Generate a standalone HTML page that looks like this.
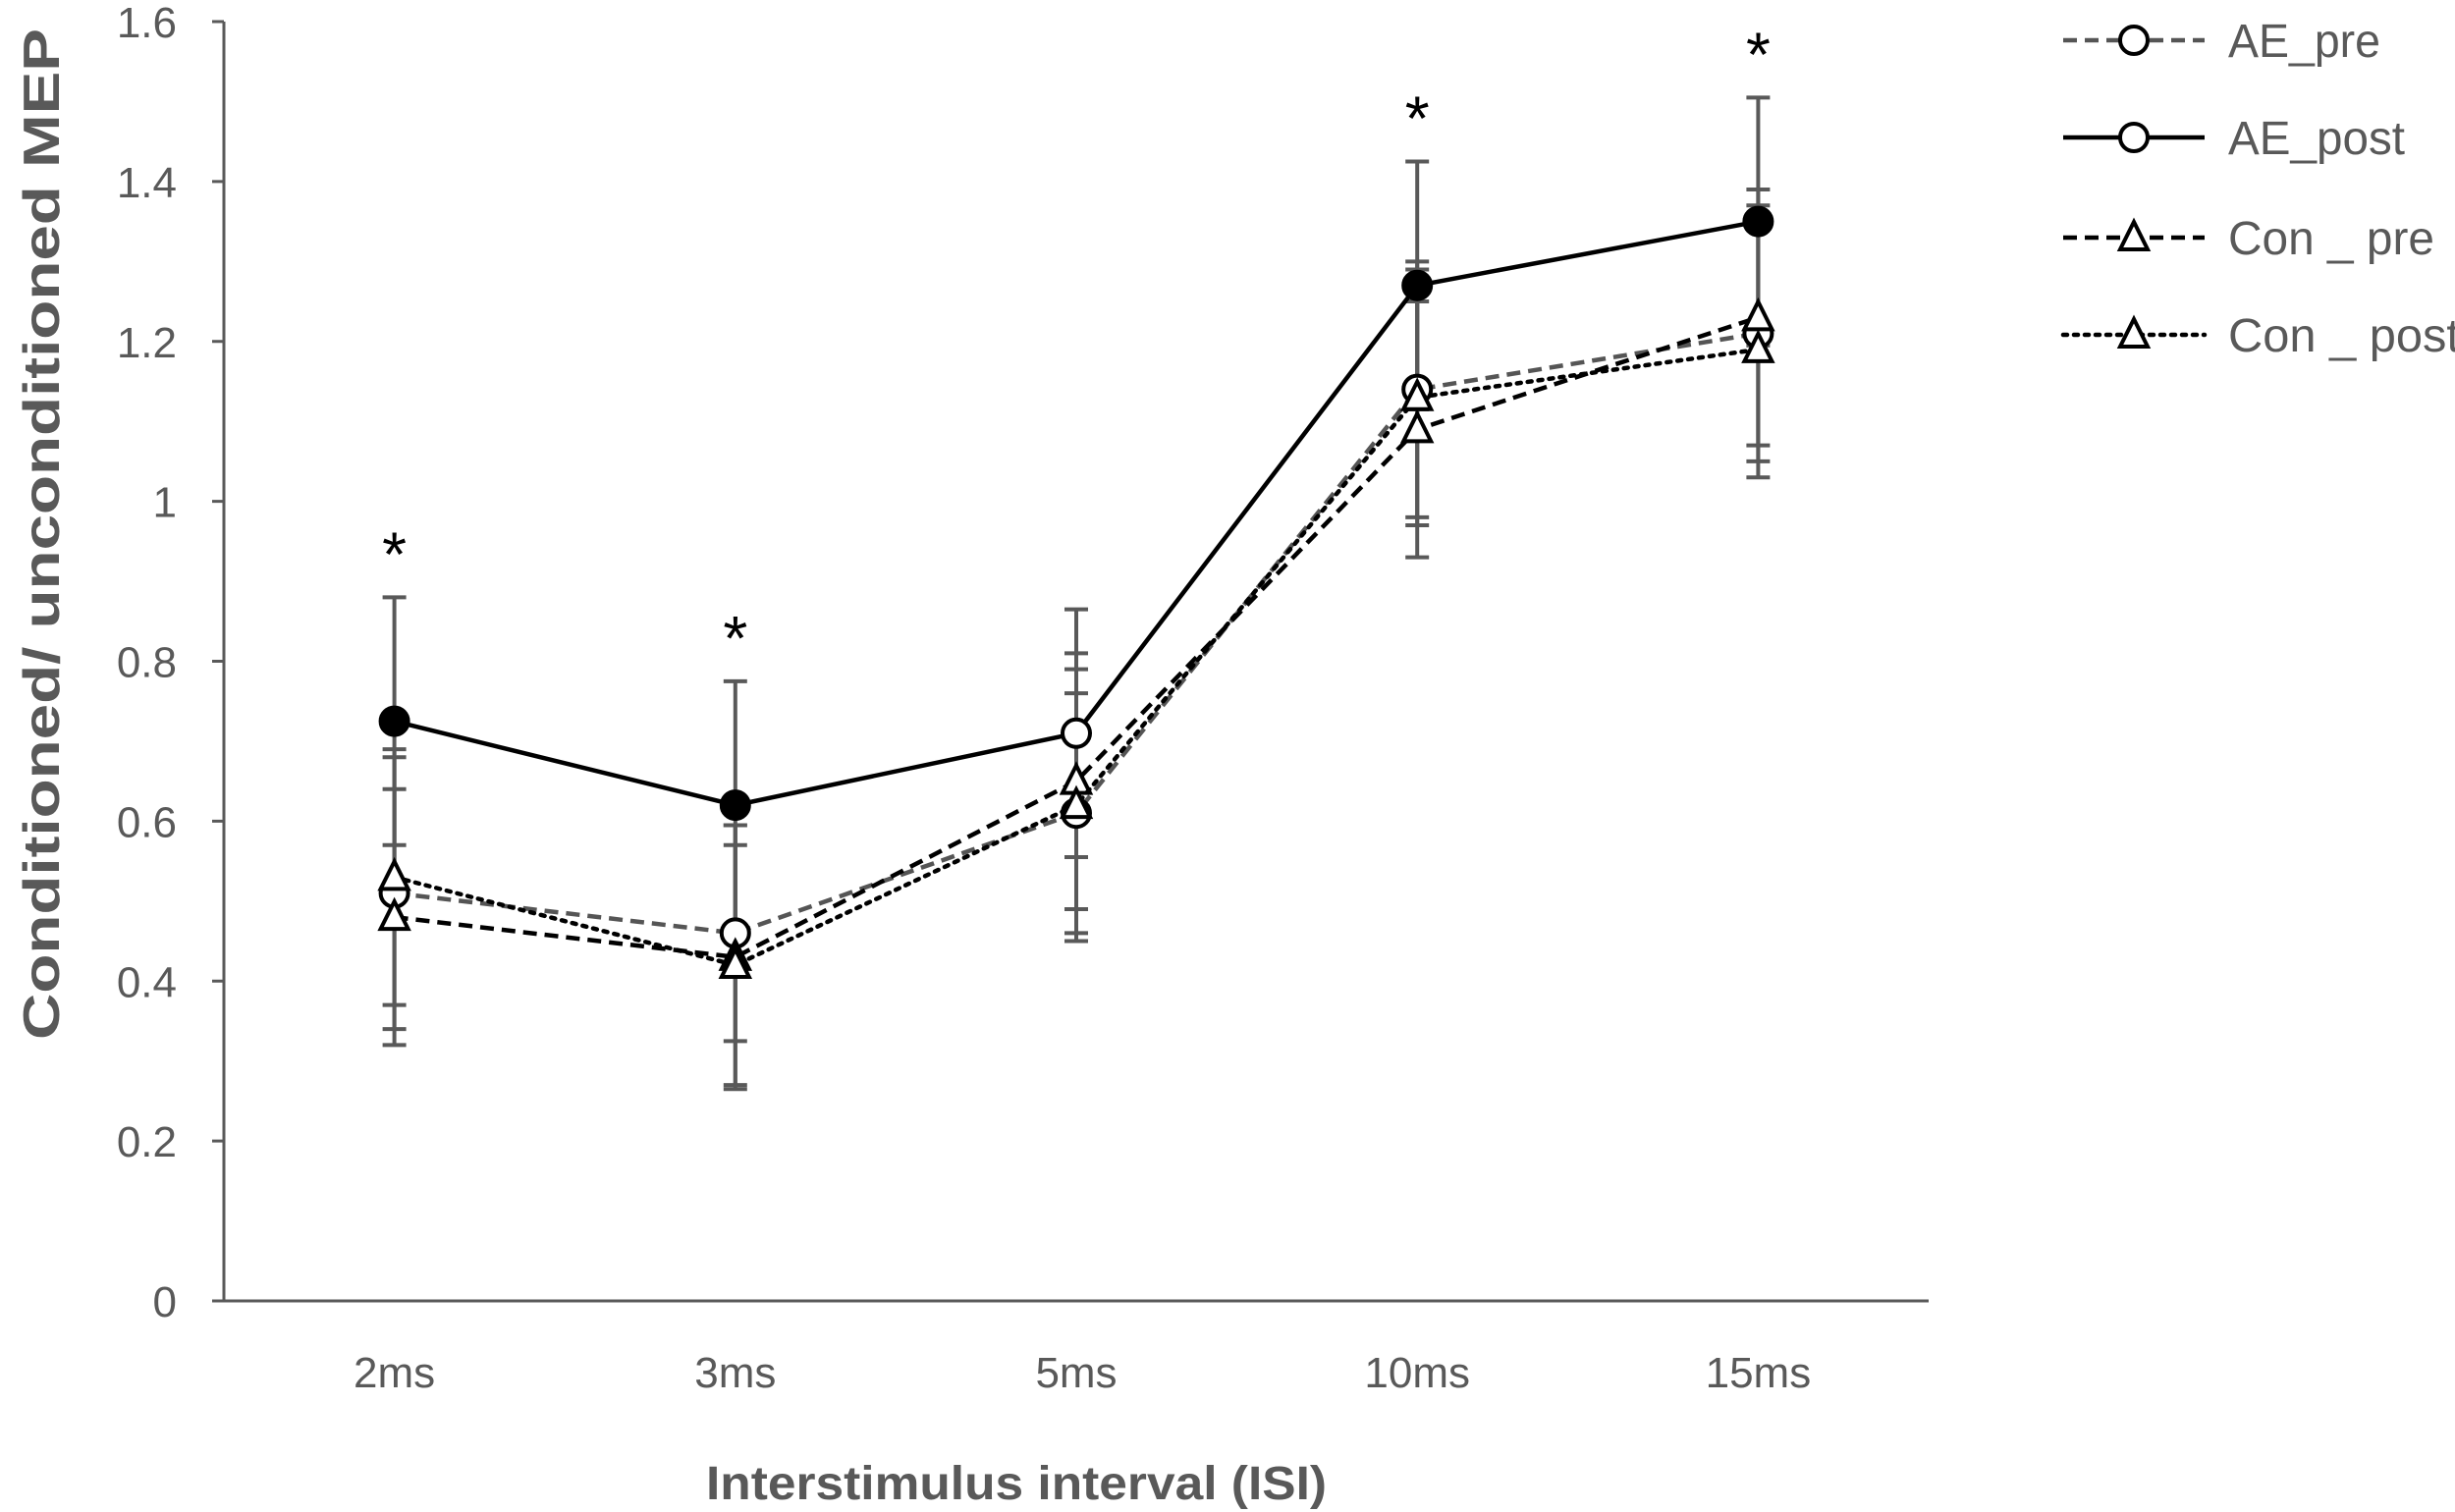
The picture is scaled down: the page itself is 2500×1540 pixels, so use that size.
<!DOCTYPE html>
<html><head><meta charset="utf-8"><style>
html,body{margin:0;padding:0;background:#fff;}
svg{display:block;}
text{font-family:"Liberation Sans",sans-serif;}
</style></head><body>
<svg id="chart" width="2500" height="1540" viewBox="0 0 2500 1540" xmlns="http://www.w3.org/2000/svg">
<g id="axes"></g>
<g id="series"></g>
<g id="legend"></g>
<text transform="translate(60,544) rotate(-90)" text-anchor="middle" font-size="52" font-weight="bold" fill="#595959" textLength="1030" lengthAdjust="spacingAndGlyphs">Conditioned/ unconditioned MEP</text>
<text x="1035" y="1527" text-anchor="middle" font-size="48" font-weight="bold" fill="#595959" textLength="632" lengthAdjust="spacingAndGlyphs">Interstimulus interval (ISI)</text>
</svg>
<script>
const categories = ["2ms","3ms","5ms","10ms","15ms"];
const yTicks = [0,0.2,0.4,0.6,0.8,1,1.2,1.4,1.6];
const yTickLabels = ["0","0.2","0.4","0.6","0.8","1","1.2","1.4","1.6"];
const aePre = [0.51,0.46,0.61,1.14,1.21];
const aePreErr = [0.17,0.135,0.15,0.16,0.16];
const aePost = [0.725,0.62,0.71,1.27,1.35];
const aePostErr = [0.155,0.155,0.155,0.155,0.155];
const conPre = [0.48,0.43,0.65,1.09,1.23];
const conPreErr = [0.16,0.165,0.16,0.16,0.16];
const conPost = [0.53,0.42,0.62,1.13,1.19];
const conPostErr = [0.16,0.15,0.17,0.16,0.16];
const aePostFilled = [true,true,false,true,true];
const significant = [true,true,false,true,true];

const NS="http://www.w3.org/2000/svg";
const X0=228,X1=1964,Y0=1325,Y1=22,YMAX=1.6;
const xs=i=>X0+(X1-X0)/categories.length*(i+0.5);
const ys=v=>Y0-(v/YMAX)*(Y0-Y1);
function mk(tag,attrs,parent){const e=document.createElementNS(NS,tag);for(const k in attrs)e.setAttribute(k,attrs[k]);parent.appendChild(e);return e;}
const axes=document.getElementById('axes');
const ser=document.getElementById('series');
const leg=document.getElementById('legend');

let yAxis=mk('line',{x1:X0,y1:Y1,x2:X0,y2:Y0,stroke:'#595959','stroke-width':3},axes);


let xAxis=mk('line',{x1:X0-12,y1:Y0,x2:X1,y2:Y0,stroke:'#595959','stroke-width':3},axes);


yTicks.forEach((v,i)=>{
  let t=mk('line',{x1:X0-12,y1:ys(v),x2:X0,y2:ys(v),stroke:'#595959','stroke-width':3},axes);
  
  
  let l=mk('text',{x:180,y:ys(v)+16,'text-anchor':'end','font-size':44,fill:'#595959'},axes);
  l.textContent=yTickLabels[i];
  
  
});
categories.forEach((c,i)=>{
  let l=mk('text',{x:xs(i),y:1413,'text-anchor':'middle','font-size':44,fill:'#595959'},axes);
  l.textContent=c;
  
  
});

const seriesDefs=[
 {name:'ae-pre',vals:aePre,err:aePreErr,color:'#555',dash:'14 8',marker:'circle'},
 {name:'con-pre',vals:conPre,err:conPreErr,color:'#000',dash:'14 8',marker:'tri'},
 {name:'con-post',vals:conPost,err:conPostErr,color:'#000',dash:'4 7',marker:'tri'},
 {name:'ae-post',vals:aePost,err:aePostErr,color:'#000',dash:'none',marker:'circle',filled:aePostFilled}
];
const eg=mk('g',{},ser);


seriesDefs.forEach(s=>{
  s.vals.forEach((v,i)=>{
    const x=xs(i),hi=ys(v+s.err[i]),lo=ys(v-s.err[i]);
    let b=mk('line',{x1:x,y1:hi,x2:x,y2:lo,stroke:'#595959','stroke-width':4},eg);
    
    
    [hi,lo].forEach(yy=>{
      let c=mk('line',{x1:x-12,y1:yy,x2:x+12,y2:yy,stroke:'#595959','stroke-width':4},eg);
      
      
    });
  });
});
function marker(type,x,y,filled,parent){
  let m;
  if(type==='circle'){m=mk('circle',{cx:x,cy:y,r:14,fill:filled?'#000':'#fff',stroke:'#000','stroke-width':4},parent);}
  else{m=mk('polygon',{points:`${x},${y-16} ${x-14},${y+12} ${x+14},${y+12}`,fill:'#fff',stroke:'#000','stroke-width':4},parent);}
  return m;
}
seriesDefs.forEach(s=>{
  const g=mk('g',{},ser);
  
  
  const pts=s.vals.map((v,i)=>xs(i)+','+ys(v)).join(' ');
  let pl=mk('polyline',{points:pts,fill:'none',stroke:s.color,'stroke-width':4.5,'stroke-dasharray':s.dash,'stroke-linecap':s.dash==='4 7'?'round':'butt'},g);
  
  
  s.vals.forEach((v,i)=>{
    const m=marker(s.marker,xs(i),ys(v),s.filled?s.filled[i]:false,g);
    
    
  });
});
aePost.forEach((v,i)=>{
  if(!significant[i])return;
  let t=mk('text',{x:xs(i),y:ys(v+aePostErr[i])-22,'text-anchor':'middle','font-size':64,fill:'#000'},ser);
  t.textContent='*';
  
  
});
const legItems=[
 {label:'AE_pre',color:'#555',dash:'14 8',marker:'circle',y:41,w:155},
 {label:'AE_post',color:'#000',dash:'none',marker:'circle',y:140,w:180},
 {label:'Con _ pre',color:'#000',dash:'14 8',marker:'tri',y:242,w:210},
 {label:'Con _ post',color:'#000',dash:'4 7',marker:'tri',y:341,w:236}
];
legItems.forEach(it=>{
  const g=mk('g',{},leg);
  
  
  mk('line',{x1:2101,y1:it.y,x2:2245,y2:it.y,stroke:it.color,'stroke-width':4.5,'stroke-dasharray':it.dash,'stroke-linecap':it.dash==='4 7'?'round':'butt'},g);
  marker(it.marker,2173,it.y,false,g);
  let t=mk('text',{x:2269,y:it.y+17,'font-size':48,fill:'#595959',textLength:it.w,lengthAdjust:'spacingAndGlyphs'},g);
  t.textContent=it.label;
  
  
});
</script>
</body></html>
